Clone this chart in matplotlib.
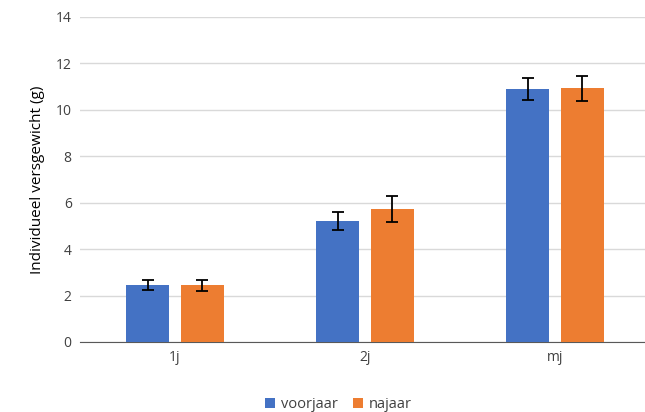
import matplotlib.pyplot as plt
import numpy as np

categories = ["1j", "2j", "mj"]
series = ["voorjaar", "najaar"]
voorjaar = [2.46, 5.2, 10.88]
najaar = [2.44, 5.72, 10.92]
voorjaar_err = [0.23, 0.38, 0.48]
najaar_err = [0.25, 0.55, 0.55]
colors = ["#4472C4", "#ED7D31"]

plt.rcParams["font.family"] = ["Open Sans", "DejaVu Sans"]

fig = plt.figure(figsize=(6.45, 4.12), dpi=100)
ax = fig.add_axes([80 / 645, 0.17, 565 / 645, 0.789])

x = np.arange(len(categories))
width = 0.226
gap = 0.063
offset = (width + gap) / 2
err_kw = dict(ecolor="black", elinewidth=1.3, capsize=4, capthick=1.3)
ax.bar(x - offset, voorjaar, width, yerr=voorjaar_err, color=colors[0],
       label=series[0], error_kw=err_kw, zorder=3)
ax.bar(x + offset, najaar, width, yerr=najaar_err, color=colors[1],
       label=series[1], error_kw=err_kw, zorder=3)

ax.set_xlim(-0.5, -0.5 + 565 / 190)
ax.set_ylim(0, 14)
ax.set_yticks(range(0, 15, 2))
ax.set_xticks(x, categories)
ax.yaxis.grid(True, color="#D9D9D9", linewidth=1)
ax.set_axisbelow(True)
for side in ("top", "right", "left"):
    ax.spines[side].set_visible(False)
ax.spines["bottom"].set_color("#595959")
ax.tick_params(axis="both", length=0, colors="#404040", labelsize=10, pad=6)
ax.set_ylabel("Individueel versgewicht (g)", fontsize=11, color="black", labelpad=8)

ax.legend(loc="upper center", bbox_to_anchor=(0.5 - 24 / 565, -0.13), ncol=2,
          frameon=False, fontsize=10.5, handlelength=0.7, handleheight=0.7,
          columnspacing=1.0, handletextpad=0.4, labelcolor="#404040")

fig.savefig("out.png", dpi=100)
